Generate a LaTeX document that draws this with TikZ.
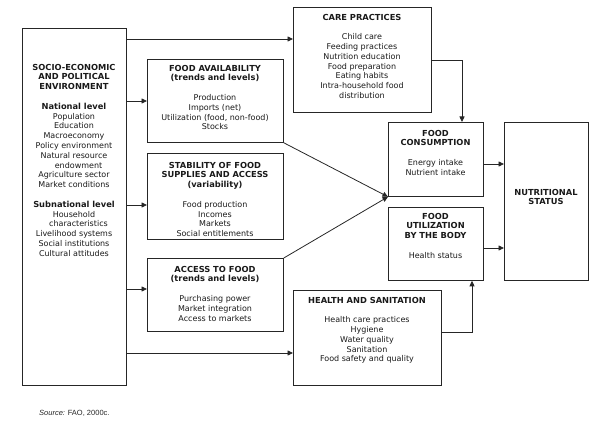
\documentclass[tikz,border=0pt]{standalone}
\usepackage{fontspec}
\setmainfont{DejaVu Sans}
\newfontfamily\srcfont{Liberation Sans}
\usetikzlibrary{arrows.meta}
\newcommand\hd[1]{{\fontsize{8.3}{9.8}\selectfont\bfseries #1}}
\begin{document}
\begin{tikzpicture}[x=1pt,y=-1pt,
  box/.style={draw=black!85, line width=0.8pt, rectangle, inner sep=0pt, anchor=north west},
  txt/.style={font=\fontsize{8}{9.8}\selectfont, align=center, inner sep=0pt, text=black!90, anchor=north},
  arr/.style={draw=black!85, line width=0.8pt, -{Triangle[length=5.5pt,width=5pt]}},
  ln/.style={draw=black!85, line width=0.8pt}]
\useasboundingbox (0,0) rectangle (606,422);

% boxes
\node[box, minimum width=104pt, minimum height=357pt] (sep) at (22,28) {};
\node[box, minimum width=136pt, minimum height=83pt] (fa) at (147,59) {};
\node[box, minimum width=136pt, minimum height=86pt] (stab) at (147,153) {};
\node[box, minimum width=136pt, minimum height=73pt] (acc) at (147,258) {};
\node[box, minimum width=138pt, minimum height=105pt] (care) at (293,7) {};
\node[box, minimum width=148pt, minimum height=95pt] (hs) at (293,290) {};
\node[box, minimum width=95pt, minimum height=74pt] (cons) at (388,122) {};
\node[box, minimum width=95pt, minimum height=73pt] (util) at (388,207) {};
\node[box, minimum width=84pt, minimum height=158pt] (nut) at (504,122) {};

% texts
\node[txt] (sep-t) at (74,63.8) {\hd{SOCIO-ECONOMIC}\\ \hd{AND POLITICAL}\\ \hd{ENVIRONMENT}\\[9.8pt]
 \hd{National level}\\ Population\\ Education\\ Macroeconomy\\ Policy environment\\ Natural resource\\ \hspace*{9pt}endowment\\ Agriculture sector\\ Market conditions\\[9.8pt]
 \hd{Subnational level}\\ Household\\ \hspace*{9pt}characteristics\\ Livelihood systems\\ Social institutions\\ Cultural attitudes};
\node[txt] (fa-t) at (215,64.8) {\hd{FOOD AVAILABILITY}\\ \hd{(trends and levels)}\\[9.8pt]
 Production\\ Imports (net)\\ Utilization (food, non-food)\\ Stocks};
\node[txt] (stab-t) at (215,161.8) {\hd{STABILITY OF FOOD}\\ \hd{SUPPLIES AND ACCESS}\\ \hd{(variability)}\\[9.8pt]
 Food production\\ Incomes\\ Markets\\ Social entitlements};
\node[txt] (acc-t) at (215,265.8) {\hd{ACCESS TO FOOD}\\ \hd{(trends and levels)}\\[9.8pt]
 Purchasing power\\ Market integration\\ Access to markets};
\node[txt] (care-t) at (362,13.8) {\hd{CARE PRACTICES}\\[9.8pt]
 Child care\\ Feeding practices\\ Nutrition education\\ Food preparation\\ Eating habits\\ Intra-household food\\ distribution};
\node[txt] (hs-t) at (367,296.8) {\hd{HEALTH AND SANITATION}\\[9.8pt]
 Health care practices\\ Hygiene\\ Water quality\\ Sanitation\\ Food safety and quality};
\node[txt] (cons-t) at (435.5,129.8) {\hd{FOOD}\\ \hd{CONSUMPTION}\\[9.8pt]
 Energy intake\\ Nutrient intake};
\node[txt] (util-t) at (435.5,212.8) {\hd{FOOD}\\ \hd{UTILIZATION}\\ \hd{BY THE BODY}\\[9.8pt]
 Health status};
\node[txt, anchor=center] (nut-t) at (546,197) {\hd{NUTRITIONAL}\\ \hd{STATUS}};

% source
\node[font=\srcfont\fontsize{7.5}{9}\selectfont, inner sep=0pt, text=black!85, anchor=west] (src) at (39,413) {\textit{Source:} FAO, 2000c.};

% connectors
\draw[arr] (sep.east |- 0,39) -- (care.west |- 0,39);
\draw[arr] (sep.east |- 0,101) -- (fa.west |- 0,101);
\draw[arr] (sep.east |- 0,205) -- (stab.west |- 0,205);
\draw[arr] (sep.east |- 0,289) -- (acc.west |- 0,289);
\draw[arr] (sep.east |- 0,353) -- (hs.west |- 0,353);
\draw[arr] (care.east |- 0,60) -| (cons.north -| 462,0);
\draw[arr] (fa.south east) -- (cons.south west);
\draw[arr] (acc.north east) -- (cons.south west);
\draw[arr] (cons.east |- 0,164) -- (nut.west |- 0,164);
\draw[arr] (util.east |- 0,248) -- (nut.west |- 0,248);
\draw[arr] (hs.east |- 0,332) -| (util.south -| 472,0);
\end{tikzpicture}
\end{document}
